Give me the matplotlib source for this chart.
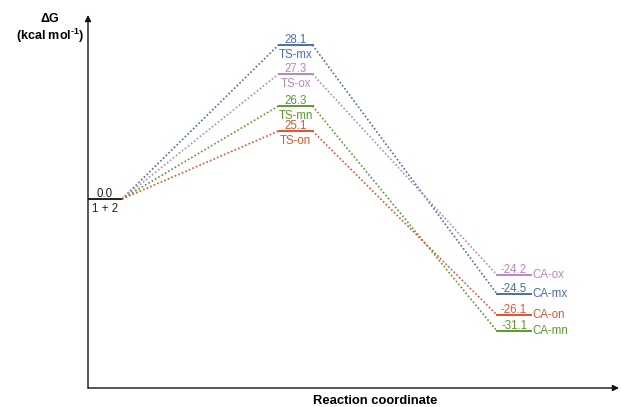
import numpy as np
import matplotlib.pyplot as plt

plt.rcParams['font.family'] = ['Liberation Sans', 'DejaVu Sans']
plt.rcParams['mathtext.fontset'] = 'custom'
plt.rcParams['mathtext.rm'] = 'Liberation Sans:bold'
plt.rcParams['mathtext.bf'] = 'Liberation Sans:bold'

# free energies (kcal/mol) for each pathway
paths = ["mx", "ox", "mn", "on"]
e_start = 0.0
e_ts = [28.1, 27.3, 26.3, 25.1]
e_ca = [-24.5, -24.2, -31.1, -26.1]
ts_labels = ["TS-mx", "TS-ox", "TS-mn", "TS-on"]
ca_labels = ["CA-mx", "CA-ox", "CA-mn", "CA-on"]
start_label = "1 + 2"
colors = ["#4a6cb4", "#bb85c6", "#5b9a2c", "#e2532b"]

# schematic (not-to-scale) energy axis: energy -> drawn height
levels = sorted([e_start] + e_ts + e_ca)
heights = [57, 73, 94, 113, 189, 257, 282, 314, 343]
ax_lo, ax_hi = -60.0, 40.0
scale_e = [ax_lo] + levels + [ax_hi]
scale_h = [0] + heights + [373]


def fwd(v):
    return np.interp(v, scale_e, scale_h)


def inv(h):
    return np.interp(h, scale_h, scale_e)


# stage centres along the reaction coordinate
x_start, x_ts, x_ca = 17, 207.5, 426
half = 17

fig = plt.figure(figsize=(6.21, 4.07), dpi=100)
ax = fig.add_axes([88 / 621, 19 / 407, 531 / 621, 373 / 407])
ax.set_yscale('function', functions=(fwd, inv))
ax.set_xlim(0, 531)
ax.set_ylim(ax_lo, ax_hi)
ax.axis('off')

# axes with arrow heads
arrow = dict(arrowstyle='-|>', lw=1.0, color='#111111', mutation_scale=9,
             shrinkA=0, shrinkB=0)
ax.annotate('', xy=(0, 1), xytext=(0, 0), xycoords='axes fraction', arrowprops=arrow)
ax.annotate('', xy=(1, 0), xytext=(0, 0), xycoords='axes fraction', arrowprops=arrow)

fs = 8.3
lvl_lw = 1.4
dot = (0, (1, 1.3))
up, down = 1.3, -2.6


def value_text(x, e, c):
    ax.annotate(f"{e:.1f}", (x, e), xytext=(0, up), textcoords='offset points',
                ha='center', va='baseline', fontsize=fs, color=c)


# starting level
ax.plot([0, x_start + half], [e_start, e_start], color='#222222', lw=lvl_lw)
value_text(x_start, e_start, '#222222')
ax.annotate(start_label, (x_start, e_start), xytext=(0, down), textcoords='offset points',
            ha='center', va='top', fontsize=fs, color='#222222')

for i in range(len(paths)):
    c = colors[i]
    # dotted connectors
    ax.plot([x_start + half, x_ts - half], [e_start, e_ts[i]], color=c, lw=1.2, ls=dot)
    ax.plot([x_ts + half, x_ca - half], [e_ts[i], e_ca[i]], color=c, lw=1.2, ls=dot)
    # transition state level
    ax.plot([x_ts - half, x_ts + half], [e_ts[i], e_ts[i]], color=c, lw=lvl_lw)
    value_text(x_ts, e_ts[i], c)
    ax.annotate(ts_labels[i], (x_ts, e_ts[i]), xytext=(0, down), textcoords='offset points',
                ha='center', va='top', fontsize=fs, color=c)
    # product level
    ax.plot([x_ca - half, x_ca + half], [e_ca[i], e_ca[i]], color=c, lw=lvl_lw)
    value_text(x_ca, e_ca[i], c)
    ax.annotate(ca_labels[i], (x_ca + half, e_ca[i]), xytext=(0.8, -0.3), textcoords='offset points',
                ha='left', va='center', fontsize=fs, color=c)

# axis titles
fig.text(50 / 621, 1 - 19 / 407, "ΔG", ha='center', va='center', fontsize=9, fontweight='bold')
fig.text(50 / 621, 1 - 36 / 407, r"(kcal mol$^{\text{-1}}$)", ha='center', va='center',
         fontsize=9, fontweight='bold')
fig.text(375 / 621, 1 - 401 / 407, "Reaction coordinate", ha='center', va='center',
         fontsize=9.4, fontweight='bold')

fig.savefig("out.png", dpi=100)
